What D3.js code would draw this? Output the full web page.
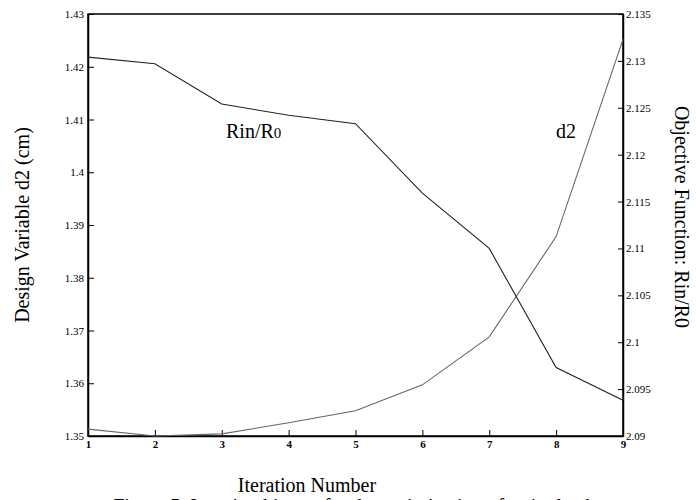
<!DOCTYPE html>
<html>
<head>
<meta charset="utf-8">
<script src="https://cdn.jsdelivr.net/npm/d3@7"></script>
<style>
  body { margin: 0; background: #fff; }
  svg { display: block; font-family: "Liberation Serif", "Times New Roman", serif; }
  .axis path, .axis line { stroke: #000; }
  .axis text { font-family: "Liberation Serif", "Times New Roman", serif; font-size: 11px; fill: #000; }
</style>
</head>
<body>
<svg id="chart" width="696" height="500"></svg>
<script>
// Data
const iterations = [1, 2, 3, 4, 5, 6, 7, 8, 9];
const d2Values = [1.3513, 1.3500, 1.3504, 1.3525, 1.3548, 1.3597, 1.3688, 1.3878, 1.4252];
const rinValues = [2.1304, 2.1297, 2.1254, 2.1242, 2.1233, 2.1159, 2.1100, 2.0973, 2.0938];
const leftTicks = [1.35, 1.36, 1.37, 1.38, 1.39, 1.40, 1.41, 1.42, 1.43];
const rightTicks = [2.09, 2.095, 2.1, 2.105, 2.11, 2.115, 2.12, 2.125, 2.13, 2.135];

const svg = d3.select("#chart");
const margin = {top: 14, right: 73, bottom: 64, left: 88};
const width = 696 - margin.left - margin.right;
const height = 500 - margin.top - margin.bottom;

const g = svg.append("g").attr("transform", `translate(${margin.left},${margin.top})`);

// Scales
const x = d3.scaleLinear().domain([1, 9]).range([0, width]);
const yLeft = d3.scaleLinear().domain([1.35, 1.43]).range([height, 0]);
const yRight = d3.scaleLinear().domain([2.09, 2.135]).range([height, 0]);

const fmt = d => String(+d.toFixed(3));

// Frame
g.append("rect")
    .attr("width", width)
    .attr("height", height)
    .attr("fill", "none")
    .attr("stroke", "#000")
    .attr("stroke-width", 1.5);

// Axes (ticks pointing inward)
g.append("g")
    .attr("class", "axis")
    .call(d3.axisLeft(yLeft).tickValues(leftTicks).tickFormat(fmt).tickSizeInner(-6).tickSizeOuter(0).tickPadding(4))
    .call(a => a.select(".domain").attr("stroke-width", 1.5));

g.append("g")
    .attr("class", "axis")
    .attr("transform", `translate(${width},0)`)
    .call(d3.axisRight(yRight).tickValues(rightTicks).tickFormat(fmt).tickSizeInner(-5).tickSizeOuter(0).tickPadding(3))
    .call(a => a.select(".domain").attr("stroke-width", 1.5));

g.append("g")
    .attr("class", "axis")
    .attr("transform", `translate(0,${height})`)
    .call(d3.axisBottom(x).tickValues(iterations).tickFormat(d3.format("d")).tickSizeInner(-6).tickSizeOuter(0).tickPadding(4))
    .call(a => a.select(".domain").attr("stroke-width", 1.5))
    .call(a => a.selectAll("text").style("font-weight", "bold"));

// Lines
const d2Line = d3.line()
    .x((d, i) => x(iterations[i]))
    .y(d => yLeft(d));

const rinLine = d3.line()
    .x((d, i) => x(iterations[i]))
    .y(d => yRight(d));

g.append("path")
    .datum(d2Values)
    .attr("fill", "none")
    .attr("stroke", "#666")
    .attr("stroke-width", 1.1)
    .attr("d", d2Line);

g.append("path")
    .datum(rinValues)
    .attr("fill", "none")
    .attr("stroke", "#222")
    .attr("stroke-width", 1.1)
    .attr("d", rinLine);

// In-plot labels
const rinLabel = svg.append("text")
    .attr("x", 226)
    .attr("y", 138)
    .style("font-size", "20px");
rinLabel.append("tspan").text("Rin/R");
rinLabel.append("tspan").style("font-size", "15px").text("0");

svg.append("text")
    .attr("x", 556)
    .attr("y", 138)
    .style("font-size", "20px")
    .text("d2");

// Axis titles
svg.append("text")
    .attr("transform", `translate(29,${margin.top + height / 2}) rotate(-90)`)
    .attr("text-anchor", "middle")
    .style("font-size", "20px")
    .text("Design Variable d2 (cm)");

svg.append("text")
    .attr("transform", `translate(675,${margin.top + height / 2 - 8}) rotate(90)`)
    .attr("text-anchor", "middle")
    .style("font-size", "20px")
    .text("Objective Function: Rin/R0");

svg.append("text")
    .attr("x", 307)
    .attr("y", 492)
    .attr("text-anchor", "middle")
    .style("font-size", "20px")
    .text("Iteration Number");

// Caption (cut off at the bottom edge, as in the source scan)
svg.append("text")
    .attr("x", 362)
    .attr("y", 513)
    .attr("text-anchor", "middle")
    .style("font-size", "20px")
    .text("Figure 5. Iteration history for the optimization of a single-shot");
</script>
</body>
</html>
